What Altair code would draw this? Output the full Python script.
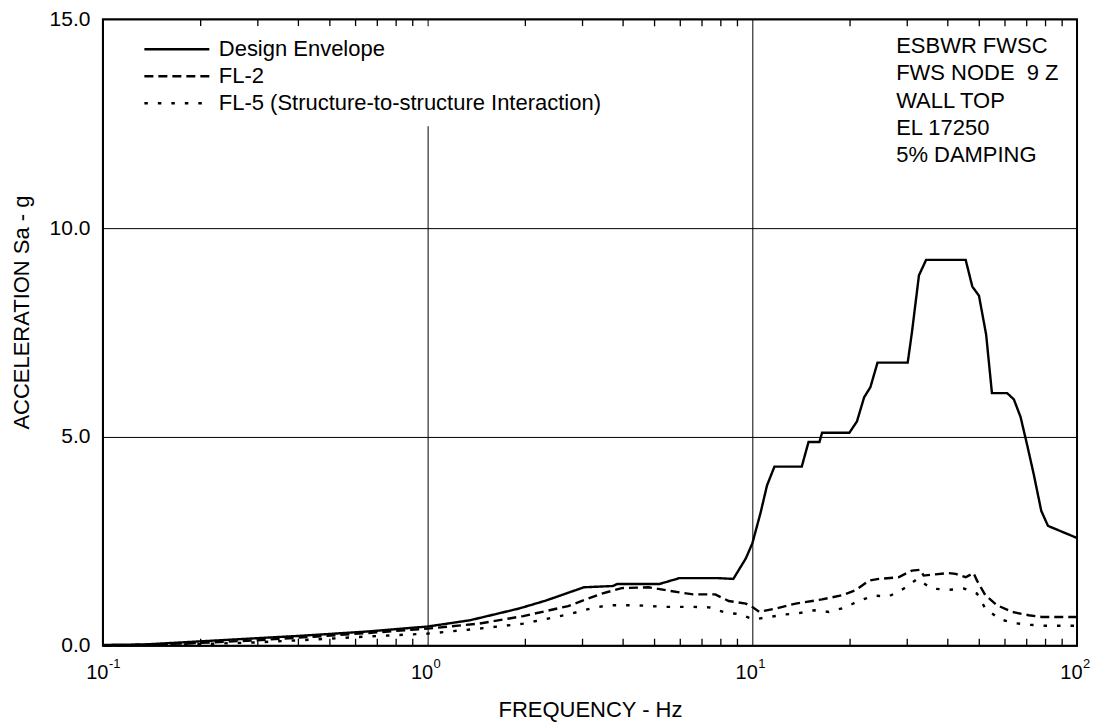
import altair as alt
import pandas as pd

FONT = "Liberation Sans, Arial, Helvetica, sans-serif"

# ---- data ----
env_freq = [0.1, 0.134, 0.216, 0.41, 0.65, 1.0, 1.35, 1.91, 2.31, 3.03, 3.72, 3.84, 5.18, 5.97,
            7.81, 8.74, 9.55, 10.0, 10.6, 11.1, 11.7, 14.2, 14.9, 16.1, 16.4, 19.9, 21.0, 22.1,
            23.1, 24.3, 30.1, 31.0, 32.6, 34.3, 45.4, 47.6, 49.9, 52.5, 54.7, 60.9, 63.9, 67.0,
            70.2, 73.6, 77.6, 81.4, 100.0]
env_acc = [0.02, 0.03, 0.12, 0.24, 0.34, 0.46, 0.61, 0.89, 1.08, 1.40, 1.43, 1.48, 1.48, 1.62,
           1.62, 1.60, 2.09, 2.45, 3.18, 3.84, 4.29, 4.29, 4.88, 4.88, 5.10, 5.10, 5.37, 5.95,
           6.19, 6.78, 6.78, 7.49, 8.87, 9.24, 9.24, 8.60, 8.38, 7.45, 6.05, 6.05, 5.90, 5.48,
           4.81, 4.10, 3.23, 2.87, 2.58]

fl2_freq = [0.1, 0.184, 0.296, 0.475, 0.695, 1.0, 1.44, 1.97, 2.71, 3.38, 3.96, 4.79, 5.61, 6.57,
            7.69, 8.46, 9.55, 10.0, 10.5, 11.8, 13.6, 16.4, 18.9, 20.8, 22.9, 24.5, 28.2, 31.0,
            32.9, 33.7, 36.6, 40.3, 42.3, 45.4, 48.0, 49.2, 52.2, 56.7, 63.1, 71.0, 78.0, 100.0]
fl2_acc = [0.0, 0.055, 0.13, 0.23, 0.32, 0.41, 0.53, 0.71, 0.95, 1.23, 1.38, 1.40, 1.31, 1.23,
           1.23, 1.07, 1.01, 0.93, 0.81, 0.89, 1.01, 1.11, 1.21, 1.33, 1.56, 1.60, 1.64, 1.80,
           1.82, 1.68, 1.71, 1.74, 1.72, 1.64, 1.74, 1.56, 1.21, 0.97, 0.81, 0.73, 0.69, 0.69]

fl5_freq = [0.1, 0.202, 0.296, 0.475, 0.65, 1.0, 1.44, 1.97, 2.71, 3.17, 3.6, 4.35, 5.43, 6.57,
            7.36, 8.28, 9.1, 10.1, 11.3, 12.7, 13.9, 15.5, 17.2, 19.4, 21.2, 23.7, 26.3, 29.3,
            32.2, 35.7, 40.3, 44.8, 49.2, 52.2, 58.0, 64.5, 71.8, 79.9, 100.0]
fl5_acc = [0.0, 0.04, 0.08, 0.16, 0.22, 0.29, 0.41, 0.53, 0.75, 0.89, 0.97, 0.97, 0.93, 0.93,
           0.92, 0.79, 0.76, 0.63, 0.69, 0.75, 0.78, 0.85, 0.81, 0.92, 1.07, 1.20, 1.18, 1.37,
           1.60, 1.37, 1.34, 1.37, 1.25, 0.89, 0.63, 0.54, 0.50, 0.48, 0.48]

series_names = ["Design Envelope", "FL-2", "FL-5 (Structure-to-structure Interaction)"]
x_tick_values = [0.1, 1, 10, 100]
x_tick_exponents = ["-1", "0", "1", "2"]
y_tick_values = [0, 5, 10, 15]
minor_ticks = [0.2, 0.3, 0.4, 0.5, 0.6, 0.7, 0.8, 0.9,
               2, 3, 4, 5, 6, 7, 8, 9,
               20, 30, 40, 50, 60, 70, 80, 90]
note_lines = ["ESBWR FWSC", "FWS NODE \u00a09 Z", "WALL TOP", "EL 17250", "5% DAMPING"]

rows = []
for name, fs, accs in zip(series_names, [env_freq, fl2_freq, fl5_freq],
                          [env_acc, fl2_acc, fl5_acc]):
    for i, (f, a) in enumerate(zip(fs, accs)):
        rows.append({"series": name, "freq": f, "acc": a, "order": i})
df = pd.DataFrame(rows)

exp_df = pd.DataFrame({"freq": x_tick_values, "e": x_tick_exponents})
tick_df = pd.DataFrame({"freq": [float(v) for v in minor_ticks]})
note_df = pd.DataFrame({"k": [0]})

W, H = 975, 627
XTITLE = "FREQUENCY - Hz"
xscale = alt.Scale(type="log", domain=[0.1, 100], nice=False)
yscale = alt.Scale(domain=[0, 15], nice=False, zero=False)

x_axis = alt.Axis(values=x_tick_values, labelExpr="'10'", labelFontSize=20,
                  labelFont=FONT, labelColor="black", labelAlign="right",
                  labelOffset=5, labelBaseline="alphabetic", labelPadding=33,
                  labelFlush=False, labelOverlap=False, ticks=False, tickSize=0,
                  domain=False, grid=True, gridColor="black", gridWidth=1,
                  gridOpacity=1, titleFontSize=22, titleFont=FONT,
                  titleFontWeight="normal", titleColor="black",
                  titleBaseline="alphabetic", titleY=71)

lines = alt.Chart(df).mark_line(color="black", strokeWidth=2.4).encode(
    x=alt.X("freq:Q", scale=xscale, title=XTITLE, axis=x_axis),
    y=alt.Y("acc:Q", scale=yscale, title="ACCELERATION Sa - g",
            axis=alt.Axis(values=y_tick_values, format=".1f", labelFontSize=21,
                          labelFont=FONT, labelColor="black", labelPadding=13,
                          labelFlush=False, labelOverlap=False, ticks=False, tickSize=0,
                          domain=False, grid=True, gridColor="black", gridWidth=1,
                          gridOpacity=1, titleFontSize=22, titleFont=FONT,
                          titleFontWeight="normal", titleColor="black", titleAngle=270,
                          titleX=-74, titleY=293, titleBaseline="alphabetic",
                          titleAlign="center")),
    strokeDash=alt.StrokeDash(
        "series:N", title=None,
        scale=alt.Scale(domain=series_names, range=[[1, 0], [9, 5], [3.5, 10]]),
        legend=alt.Legend(orient="none", legendX=28, legendY=7, symbolType="stroke",
                          symbolSize=4225, symbolStrokeWidth=2.5,
                          symbolStrokeColor="black", labelFontSize=22, labelFont=FONT,
                          labelColor="black", labelOffset=8, labelLimit=500,
                          fillColor="white", padding=12, rowPadding=5, clipHeight=22)),
    order="order:Q",
)

# minor log ticks, inward, along the bottom and top frame
bottom_ticks = alt.Chart(tick_df).mark_rule(stroke="black", strokeWidth=1.3).encode(
    x=alt.X("freq:Q", scale=xscale, title=XTITLE, axis=x_axis),
    y=alt.value(H), y2=alt.value(H - 7))
top_ticks = alt.Chart(tick_df).mark_rule(stroke="black", strokeWidth=1.3).encode(
    x=alt.X("freq:Q", scale=xscale, title=XTITLE, axis=x_axis),
    y=alt.value(0), y2=alt.value(7))

exps = alt.Chart(exp_df).mark_text(align="left", baseline="alphabetic", dx=6, fontSize=13,
                                   font=FONT, color="black").encode(
    x=alt.X("freq:Q", scale=xscale, title=XTITLE, axis=x_axis),
    y=alt.value(H + 22),
    text="e:N")

notes = alt.Chart(note_df).mark_text(align="left", baseline="alphabetic", fontSize=22,
                                     font=FONT, color="black", lineHeight=27.2).encode(
    x=alt.value(794), y=alt.value(34), text=alt.value(note_lines))

chart = alt.layer(lines, bottom_ticks, top_ticks, exps, notes).properties(
    width=W, height=H,
    autosize=alt.AutoSizeParams(type="none"),
    padding={"left": 95, "top": 11, "right": 17, "bottom": 78},
).configure(font=FONT).configure_view(stroke="black", strokeWidth=2)

chart.save("out.html", embed_options={"renderer": "svg", "actions": False})
